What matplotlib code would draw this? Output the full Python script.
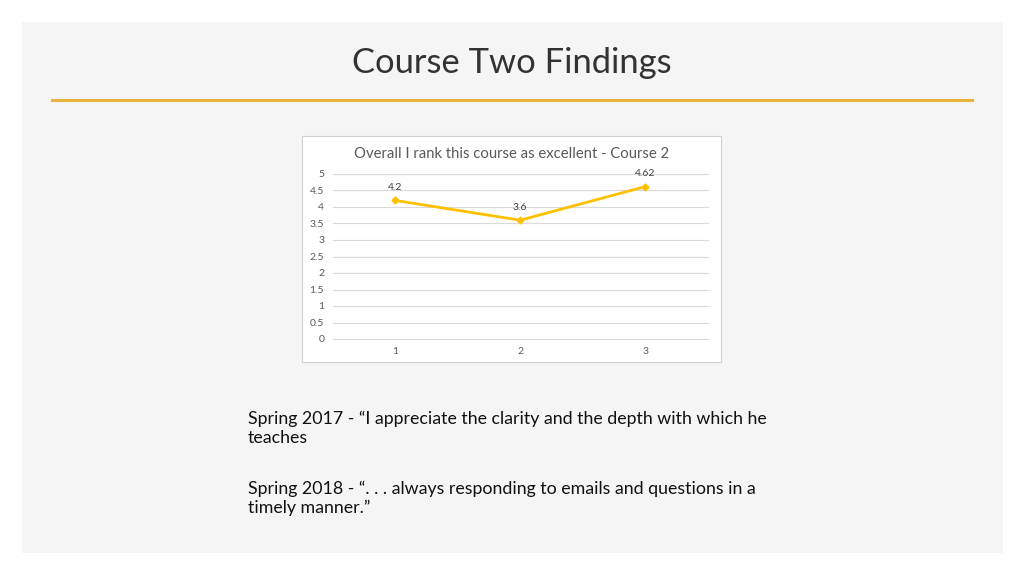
import matplotlib.pyplot as plt
from matplotlib.patches import Rectangle

# data
categories = [1, 2, 3]
scores = [4.2, 3.6, 4.62]
score_labels = ["4.2", "3.6", "4.62"]
y_ticks = [0, 0.5, 1, 1.5, 2, 2.5, 3, 3.5, 4, 4.5, 5]
y_tick_labels = ["0", "0.5", "1", "1.5", "2", "2.5", "3", "3.5", "4", "4.5", "5"]

W, H = 1024, 576
fig = plt.figure(figsize=(W / 100, H / 100), dpi=100)
fig.patch.set_facecolor("white")


def px(x, y):
    # pixel coords (top-left origin) -> figure fraction
    return x / W, 1 - y / H


# slide panel
fig.patches.append(Rectangle(px(22, 553), 981 / W, 531 / H, transform=fig.transFigure,
                             facecolor="#f5f5f5", edgecolor="none", zorder=0))

# title and gold rule
fig.text(*px(512, 63), "Course Two Findings", ha="center", va="center",
         fontsize=24.8, color="#333333", family="Lato")
fig.add_artist(plt.Line2D([52 / W, 972 / W], [1 - 100 / H] * 2, transform=fig.transFigure,
                          color="#e9b43c", lw=2.2))

# chart box
fig.patches.append(Rectangle(px(302, 362), 419 / W, 226 / H, transform=fig.transFigure,
                             facecolor="white", edgecolor="#d0d0d0", lw=0.8, zorder=1))
fig.text(*px(512, 154), "Overall I rank this course as excellent - Course 2", ha="center",
         va="center", fontsize=10.7, color="#595959", family="Lato", zorder=3)

ax = fig.add_axes([332.5 / W, 1 - 339 / H, 375.5 / W, 165 / H], zorder=2)
ax.set_facecolor("none")
ax.plot(categories, scores, color="#ffc000", lw=2, marker="D", markersize=3.5)
for x, y, lab in zip(categories, scores, score_labels):
    ax.annotate(lab, (x, y), xytext=(0, 6), textcoords="offset points", ha="center",
                va="bottom", fontsize=7.5, color="#404040", family="Lato")

ax.set_xlim(0.5, 3.5)
ax.set_ylim(0, 5)
ax.set_yticks(y_ticks)
ax.set_yticklabels(y_tick_labels)
ax.set_xticks(categories)
ax.grid(axis="y", color="#d9d9d9", lw=0.8)
for gl in ax.get_ygridlines():
    gl.set_clip_on(False)
ax.set_axisbelow(True)
for s in ax.spines.values():
    s.set_visible(False)
ax.tick_params(length=0, labelsize=7.5, colors="#595959", pad=6)
for lab in ax.get_xticklabels() + ax.get_yticklabels():
    lab.set_family("Lato")

# quotes
body = dict(fontsize=12.75, color="#111111", family="Lato", ha="left", va="center")
fig.text(*px(248, 419), "Spring 2017 - \u201cI appreciate the clarity and the depth with which he", **body)
fig.text(*px(248, 438), "teaches", **body)
fig.text(*px(248, 489), "Spring 2018 - \u201c. . . always responding to emails and questions in a", **body)
fig.text(*px(248, 508), "timely manner.\u201d", **body)

fig.savefig("out.png", dpi=100)
